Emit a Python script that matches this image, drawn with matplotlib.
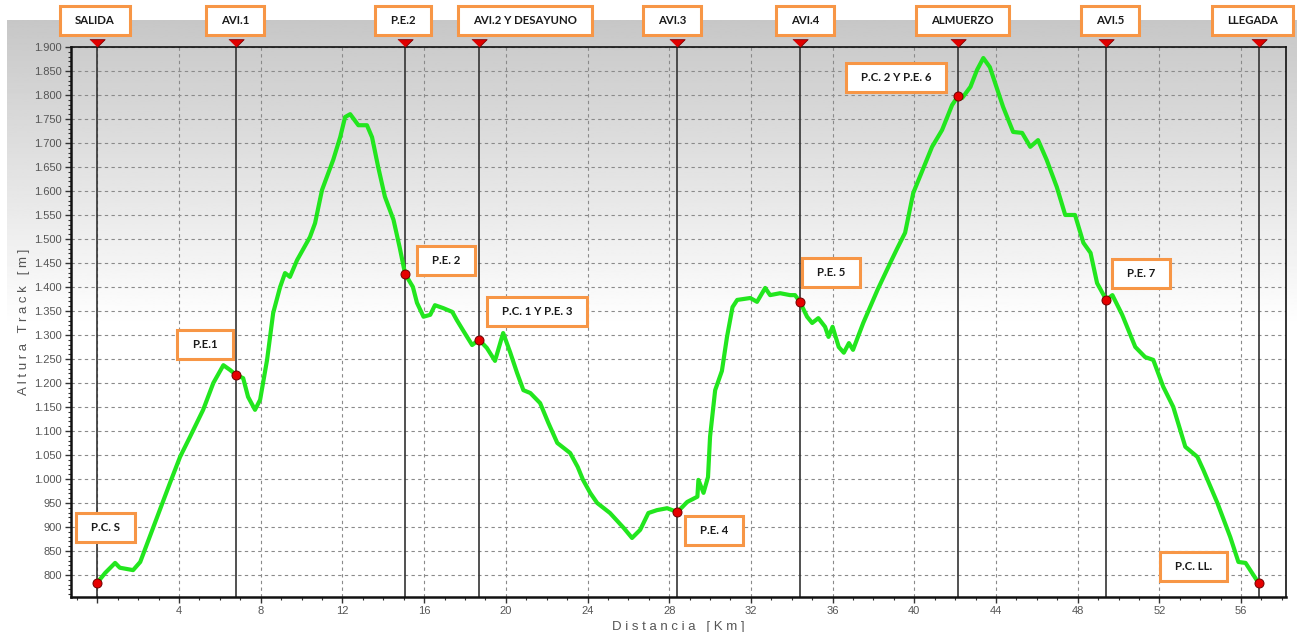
import numpy as np
import matplotlib
matplotlib.use("Agg")
import matplotlib.pyplot as plt
import matplotlib.transforms as mtrans
from matplotlib.patches import Rectangle
from matplotlib.ticker import MultipleLocator, FuncFormatter

# perfil (km, altura m)
km = [0, 0.38, 0.87, 1.1, 1.75, 2.1, 2.93, 3.56, 4.05, 4.54, 5.18, 5.68, 6.17, 6.5, 6.79,
      7.14, 7.38, 7.72, 7.97, 8.31, 8.61, 8.95, 9.19, 9.43, 9.78, 10.41, 10.66, 11.0, 11.55,
      11.89, 12.13, 12.38, 12.78, 13.2, 13.45, 13.75, 14.08, 14.5, 14.8, 15.07, 15.45, 15.65,
      15.97, 16.3, 16.53, 16.93, 17.38, 17.6, 17.9, 18.35, 18.69, 19.07, 19.47, 19.87, 20.22,
      20.55, 20.86, 21.2, 21.68, 22.08, 22.52, 23.15, 23.52, 23.78, 24.13, 24.47, 25.1, 25.77,
      26.18, 26.58, 26.98, 27.4, 27.9, 28.4, 28.88, 29.38, 29.43, 29.68, 29.9, 30.0, 30.25,
      30.58, 30.83, 31.1, 31.33, 31.97, 32.3, 32.7, 32.94, 33.43, 33.92, 34.16, 34.4, 34.75,
      35.0, 35.3, 35.63, 35.8, 36.0, 36.3, 36.55, 36.8, 37.0, 37.5, 38.2, 38.82, 39.16, 39.55,
      39.95, 40.35, 40.87, 41.36, 41.85, 42.15, 42.35, 42.75, 43.07, 43.38, 43.7, 43.96, 44.35,
      44.84, 45.28, 45.68, 46.06, 46.48, 46.98, 47.39, 47.87, 48.28, 48.63, 48.95, 49.4, 49.7,
      50.18, 50.82, 51.3, 51.7, 52.19, 52.68, 53.27, 53.86, 54.15, 54.84, 55.47, 55.87, 56.22,
      56.86]
alt = [784, 804, 825, 815, 810, 827, 921, 992, 1046, 1088, 1144, 1200, 1237, 1227, 1217,
       1210, 1171, 1144, 1165, 1248, 1346, 1400, 1429, 1421, 1456, 1504, 1533, 1602, 1665,
       1712, 1754, 1760, 1737, 1737, 1712, 1650, 1588, 1540, 1483, 1427, 1400, 1367,
       1338, 1342, 1362, 1356, 1348, 1331, 1310, 1279, 1290, 1273, 1246, 1304, 1263,
       1221, 1185, 1179, 1158, 1117, 1075, 1054, 1025, 998, 971, 950, 929, 898,
       877, 894, 929, 935, 939, 931, 952, 963, 998, 971, 1004, 1088, 1185,
       1225, 1296, 1358, 1373, 1377, 1369, 1398, 1383, 1387, 1383, 1383, 1369, 1338,
       1325, 1335, 1317, 1296, 1317, 1275, 1263, 1283, 1269, 1325, 1394, 1450, 1480, 1513,
       1596, 1638, 1692, 1727, 1779, 1798, 1794, 1817, 1852, 1877, 1858, 1825, 1775,
       1723, 1721, 1692, 1706, 1665, 1608, 1550, 1550, 1492, 1471, 1408, 1373, 1383,
       1342, 1275, 1254, 1248, 1192, 1150, 1067, 1046, 1019, 950, 879, 827, 825,
       783]

# puntos de paso (lineas verticales)
wp_km = [0, 6.79, 15.07, 18.69, 28.4, 34.4, 42.15, 49.4, 56.86]
wp_names = ["SALIDA", "AVI.1", "P.E.2", "AVI.2 Y DESAYUNO", "AVI.3", "AVI.4",
            "ALMUERZO", "AVI.5", "LLEGADA"]
wp_label_km = [-0.11, 6.74, 14.97, 20.94, 28.14, 34.66, 42.35, 49.59, 56.54]

# puntos rojos sobre el perfil
pt_alt = [784, 1217, 1427, 1290, 931, 1369, 1798, 1373, 783]
pt_names = ["P.C. S", "P.E.1", "P.E. 2", "P.C. 1 Y P.E. 3", "P.E. 4", "P.E. 5",
            "P.C. 2 Y P.E. 6", "P.E. 7", "P.C. LL."]
pt_label_km = [0.38, 5.28, 17.08, 21.53, 30.2, 35.92, 39.11, 51.1, 53.66]
pt_label_alt = [898, 1281, 1456, 1348, 892, 1431, 1837, 1429, 817]

W, H = 1304, 632
fig = plt.figure(figsize=(W / 100, H / 100), dpi=100)
fig.patch.set_facecolor("white")

# fondo degradado gris -> blanco
bg = fig.add_axes([7 / W, 0, 1290 / W, 1 - 20 / H], zorder=0)
ny = 400
top_c, fade = 0.78, 0.5
g = np.array([top_c + (1 - top_c) * min(i / (ny - 1) / fade, 1.0) for i in range(ny)])
bg.imshow(np.repeat(g[:, None], 2, axis=1), cmap="gray", vmin=0, vmax=1,
          aspect="auto", extent=[0, 1, 0, 1], origin="upper")
bg.set_axis_off()

ax = fig.add_axes([71 / W, 1 - 597 / H, (1286 - 71) / W, (597 - 47) / H], zorder=1)
ax.patch.set_alpha(0)

ax.set_xlim(-1.29, 58.2)
ax.set_ylim(754, 1900)

ax.xaxis.set_major_locator(MultipleLocator(4))
ax.xaxis.set_minor_locator(MultipleLocator(1))
ax.yaxis.set_major_locator(MultipleLocator(50))
ax.yaxis.set_minor_locator(MultipleLocator(10))
ax.xaxis.set_major_formatter(FuncFormatter(lambda v, p: "%d" % v if v > 0 else ""))
ax.yaxis.set_major_formatter(FuncFormatter(
    lambda v, p: ("{:,.0f}".format(v)).replace(",", ".") if v >= 800 else ""))

ax.grid(True, which="major", color="#8a8a8a", linestyle=(0, (3, 3)), linewidth=0.8)
ax.tick_params(axis="both", which="major", labelsize=8, labelcolor="#555555",
               color="#333333", length=4, width=1)
ax.tick_params(axis="both", which="minor", color="#333333", length=2, width=0.8)
ax.tick_params(axis="x", pad=2.5)
ax.tick_params(axis="y", pad=2.5)
for lab in ax.get_xticklabels() + ax.get_yticklabels():
    lab.set_family("Liberation Sans")

for s in ["left", "bottom"]:
    ax.spines[s].set_linewidth(1.8)
for s in ["top", "right"]:
    ax.spines[s].set_linewidth(1.2)
for s in ax.spines.values():
    s.set_color("#111111")

ax.set_xlabel("D i s t a n c i a   [ K m ]", fontsize=9.5, color="#555555",
              family="Liberation Sans")
ax.set_ylabel("A l t u r a   T r a c k   [ m ]", fontsize=9.5, color="#555555",
              family="Liberation Sans")
ax.xaxis.set_label_coords(0.5, -0.043)
ax.yaxis.set_label_coords(-0.034, 0.5)

# lineas de puntos de paso
for x in wp_km:
    ax.axvline(x, color="#333333", linewidth=1.2, zorder=2)

tri = [(-1, 0.5), (1, 0.5), (0, -0.5)]
ax.plot(wp_km, [1.0065] * len(wp_km), linestyle="none", marker=tri, markersize=11,
        markerfacecolor="#e00000", markeredgecolor="#7a0000", markeredgewidth=0.6,
        transform=ax.get_xaxis_transform(), clip_on=False, zorder=5)

# perfil
ax.plot(km, alt, color="#22e61e", linewidth=3, solid_joinstyle="round", zorder=3)
ax.plot(wp_km, pt_alt, linestyle="none", marker="o", markersize=6.5,
        markerfacecolor="#e60000", markeredgecolor="#700000", markeredgewidth=0.7, zorder=4)

lab_font = dict(family=["Lato", "DejaVu Sans"], fontweight="bold", fontsize=8.2,
                color="#1a1a1a")

labels = []
top_tr = mtrans.blended_transform_factory(ax.transData, fig.transFigure)
for name, x in zip(wp_names, wp_label_km):
    labels.append(ax.text(x, 1 - 20 / H, name, transform=top_tr, ha="center",
                          va="center", clip_on=False, zorder=8, **lab_font))
for name, x, y in zip(pt_names, pt_label_km, pt_label_alt):
    labels.append(ax.text(x, y, name, ha="center", va="center", zorder=8, **lab_font))

# cajas naranjas con margen fijo alrededor del texto
fig.canvas.draw()
rend = fig.canvas.get_renderer()
for t in labels:
    bb = t.get_window_extent(rend)
    cx, cy = (bb.x0 + bb.x1) / 2, (bb.y0 + bb.y1) / 2
    w, h = bb.width + 30, 29
    r = Rectangle((cx - w / 2, cy - h / 2), w, h, transform=mtrans.IdentityTransform(),
                  facecolor="white", edgecolor="#f79646", linewidth=2.2,
                  clip_on=False, zorder=7)
    ax.add_artist(r)

fig.savefig("out.png", dpi=100, facecolor="white")
